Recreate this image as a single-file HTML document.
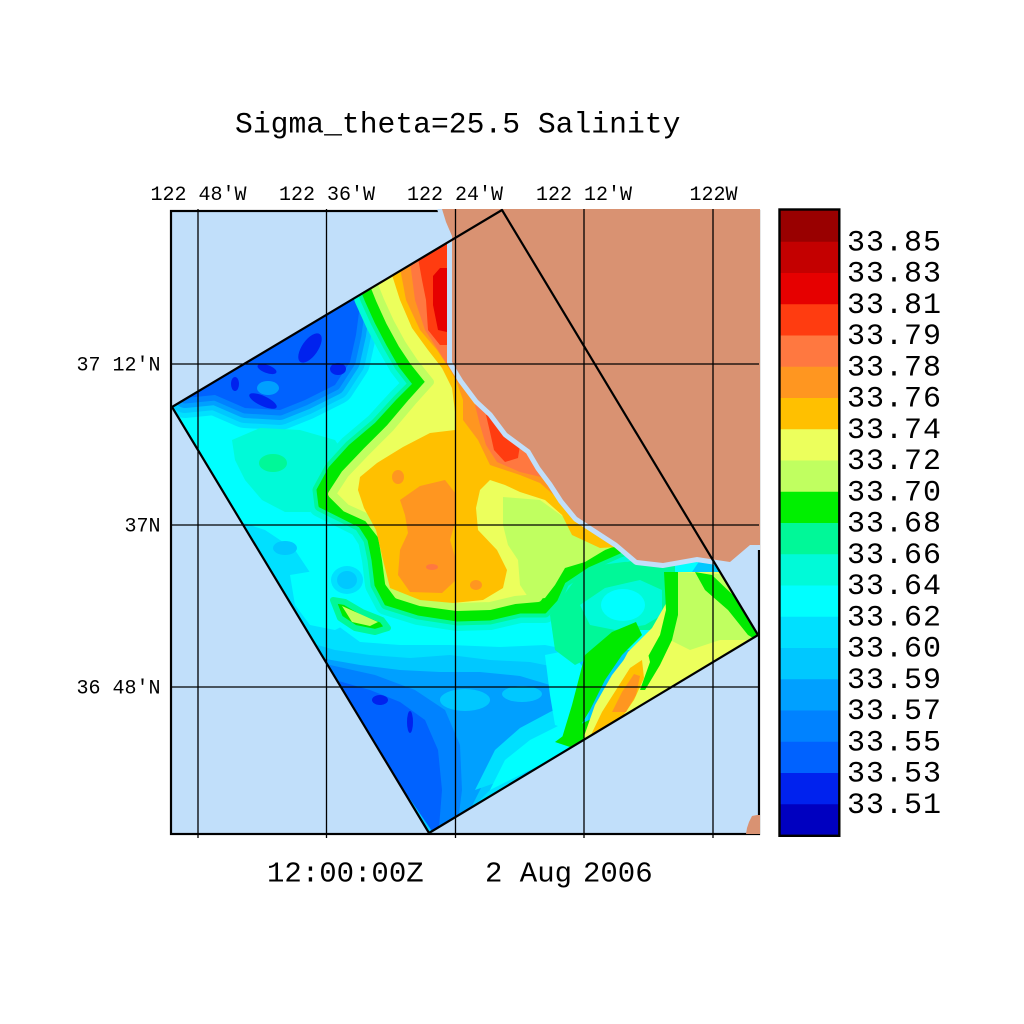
<!DOCTYPE html>
<html><head><meta charset="utf-8"><style>
html,body{margin:0;padding:0;background:#fff;}
svg{display:block;}
text{font-family:"Liberation Mono","DejaVu Sans Mono",monospace;fill:#000;}
</style></head><body>
<svg width="1024" height="1024" viewBox="0 0 1024 1024" xmlns="http://www.w3.org/2000/svg">
<defs>
<clipPath id="dc"><polygon points="172,407 502,210 758,635 429,833"/></clipPath>
<clipPath id="pc"><rect x="171" y="209" width="589" height="626"/></clipPath>
</defs>
<rect width="1024" height="1024" fill="#fff"/>
<text x="235" y="132.5" font-size="29.7">Sigma_theta=25.5 Salinity</text>
<rect x="171" y="210" width="588" height="624" fill="#c1dffa"/>
<rect x="171" y="211" width="588" height="623" fill="none" stroke="#000" stroke-width="2.2"/>

<g clip-path="url(#dc)">
<rect x="160" y="200" width="610" height="650" fill="#00c8ff"/>
<polygon fill="#00ffff" points="165,405 215,405 260,415 300,418 335,400 355,370 368,330 375,295 420,270 470,300 520,420 600,520 700,560 640,650 600,650 560,655 520,650 470,650 420,648 380,645 345,640 320,625 300,605 275,585 250,555 230,530 200,470"/>
<!-- top-left blue zone -->
<g stroke-linejoin="round">
<polygon fill="none" stroke="#00e0ff" stroke-width="40" points="185,398 215,395 245,408 280,410 305,400 335,385 350,362 356,335 360,305 372,280 250,300 180,370"/>
<polygon fill="none" stroke="#00c8ff" stroke-width="30" points="185,398 215,395 245,408 280,410 305,400 335,385 350,362 356,335 360,305 372,280 250,300 180,370"/>
<polygon fill="none" stroke="#00a0ff" stroke-width="20" points="185,398 215,395 245,408 280,410 305,400 335,385 350,362 356,335 360,305 372,280 250,300 180,370"/>
<polygon fill="none" stroke="#0082ff" stroke-width="11" points="185,398 215,395 245,408 280,410 305,400 335,385 350,362 356,335 360,305 372,280 250,300 180,370"/>
<polygon fill="#0062ff" points="185,398 215,395 245,408 280,410 305,400 335,385 350,362 356,335 360,305 372,280 250,300 180,370"/>
</g>
<ellipse cx="310" cy="348" rx="17" ry="8" transform="rotate(-55 310 348)" fill="#0022ee"/>
<ellipse cx="267" cy="369" rx="10" ry="4" transform="rotate(20 267 369)" fill="#0022ee"/>
<ellipse cx="263" cy="401" rx="15" ry="5" transform="rotate(25 263 401)" fill="#0022ee"/>
<ellipse cx="235" cy="384" rx="4" ry="7" fill="#0022ee"/>
<ellipse cx="338" cy="369" rx="8" ry="6" fill="#0022ee"/>
<ellipse cx="268" cy="388" rx="11" ry="7" fill="#00a0ff"/>
<!-- left-middle teal -->
<polygon fill="#00fad8" points="232,440 260,428 300,430 335,440 345,455 335,475 325,500 310,512 285,512 262,500 245,480 235,460"/>
<ellipse cx="273" cy="463" rx="14" ry="9" fill="#00f898"/>
<!-- bottom blues -->
<polygon fill="#00e0ff" points="235,520 265,530 295,550 315,580 330,620 360,642 400,645 450,645 500,647 545,645 570,650 590,680 580,730 540,760 440,845 200,600"/>
<ellipse cx="285" cy="548" rx="12" ry="7" fill="#00c8ff"/>
<polygon fill="#00ffff" points="290,575 320,570 345,565 365,575 368,600 355,620 335,630 310,625 295,605"/>
<ellipse cx="347" cy="580" rx="16" ry="14" fill="#00e0ff"/>
<ellipse cx="347" cy="580" rx="10" ry="9" fill="#00c8ff"/>
<polygon fill="#00c8ff" points="300,640 335,650 370,655 410,658 450,655 490,660 530,662 560,668 575,690 565,720 540,740 480,800 440,845 270,650"/>
<polygon fill="#00a0ff" points="320,658 360,665 400,670 440,672 480,672 520,676 550,685 565,700 555,725 520,745 490,770 470,810 460,845 300,660"/>
<ellipse cx="465" cy="700" rx="25" ry="11" fill="#00c8ff"/>
<ellipse cx="522" cy="694" rx="20" ry="8" fill="#00c8ff"/>
<ellipse cx="452" cy="762" rx="8" ry="24" fill="#00c8ff"/>
<polygon fill="#0082ff" points="330,665 375,675 415,690 445,710 460,745 462,790 455,845 320,670"/>
<polygon fill="#0062ff" points="335,680 370,690 400,702 425,720 438,750 442,790 438,840 330,682"/>
<ellipse cx="410" cy="722" rx="3" ry="11" fill="#0022ee"/>
<ellipse cx="380" cy="700" rx="8" ry="5" fill="#0022ee"/>
<polygon fill="#00e0ff" points="475,790 495,750 520,728 550,712 575,700 590,705 585,740 560,760"/>
<polygon fill="#00ffff" points="490,790 505,760 530,740 560,725 585,718 585,742 560,755"/>
<polygon fill="#00ffff" points="545,655 570,650 585,670 580,700 570,730 555,725 550,695"/>
<polygon fill="#00f898" points="500,800 530,775 560,760 590,748 600,748 560,775 520,810"/>
<polygon fill="#00ea00" points="555,742 575,727 595,717 592,735 570,747"/>
<!-- warm central region -->
<g stroke-linejoin="round">
<polygon fill="none" stroke="#00fad8" stroke-width="22" points="358,280 366,300 376,322 388,345 400,366 414,384 398,400 376,424 350,446 330,468 318,490 320,506 340,516 360,526 369,540 373,560 376,585 386,604 418,614 457,620 490,619 520,612 545,612 556,600 564,582 588,566 620,552 640,545 700,520 700,200 460,200"/>
<polygon fill="none" stroke="#00f898" stroke-width="11" points="358,280 366,300 376,322 388,345 400,366 414,384 398,400 376,424 350,446 330,468 318,490 320,506 340,516 360,526 369,540 373,560 376,585 386,604 418,614 457,620 490,619 520,612 545,612 556,600 564,582 588,566 620,552 640,545 700,520 700,200 460,200"/>
<polygon fill="#00ea00" stroke="#00ea00" stroke-width="3" points="358,280 366,300 376,322 388,345 400,366 414,384 398,400 376,424 350,446 330,468 318,490 320,506 340,516 360,526 369,540 373,560 376,585 386,604 418,614 457,620 490,619 520,612 545,612 556,600 564,582 588,566 620,552 640,545 700,520 700,200 460,200"/>
<polygon fill="#ecff5c" stroke="#c0ff60" stroke-width="8" points="372,280 380,300 390,322 402,344 414,362 430,382 412,402 390,428 366,452 345,474 332,494 346,508 368,518 382,536 386,560 389,583 398,595 420,602 457,607 490,606 515,600 538,598 546,586 552,570 578,556 620,540 640,535 700,520 700,200 460,200"/>
<!-- tongue -->
<polygon fill="#00ea00" stroke="#00f898" stroke-width="6" points="333,600 345,602 362,612 382,620 388,628 375,632 355,628 340,618"/>
<polygon fill="#c0ff60" points="342,606 360,614 378,622 370,626 352,622"/>
</g>
<polygon fill="#c0ff60" points="503,497 540,500 565,518 590,540 605,550 585,562 565,568 555,585 545,598 530,600 520,585 518,560 508,545 503,525"/>
<polygon fill="#ffc000" points="392,275 400,300 412,328 428,350 442,368 452,388 455,412 455,430 430,433 403,447 377,463 360,477 358,490 364,508 376,530 383,560 390,588 420,600 453,603 483,600 503,588 507,570 497,550 478,530 476,508 480,490 490,480 505,485 520,492 545,500 562,515 572,535 600,548 650,545 650,200 460,200"/>
<polygon fill="#ff9620" points="400,500 420,486 445,480 456,494 456,520 450,540 456,560 456,580 442,593 410,592 398,575 400,550 408,533 405,515"/>
<ellipse cx="398" cy="477" rx="6" ry="7" fill="#ff9620"/>
<ellipse cx="476" cy="585" rx="6" ry="5" fill="#ff9620"/>
<ellipse cx="432" cy="567" rx="6" ry="3" fill="#ff7840"/>
<!-- coastal bands -->
<polygon fill="#ff9620" points="400,268 406,300 420,330 437,350 445,362 456,380 463,400 463,420 478,440 490,465 520,475 540,483 565,505 577,517 600,533 620,545 650,545 650,200 460,200"/>
<polygon fill="#ff7840" points="410,262 415,300 425,330 438,350 448,366 470,366 470,200 440,200"/>
<polygon fill="#ff7840" points="475,405 480,425 486,445 497,462 520,472 545,478 560,470 520,420 490,400"/>
<polygon fill="#ff3c10" points="418,258 422,280 426,300 428,330 440,345 470,345 470,200 440,200"/>
<polygon fill="#ff3c10" points="486,415 490,432 494,450 505,462 518,458 520,445 510,430 498,415"/>
<polygon fill="#e60000" points="433,276 440,268 447,268 447,332 438,330 433,305"/>
<!-- right-bottom region -->
<polygon fill="#00f898" points="550,615 560,600 575,580 600,565 640,560 675,565 675,600 665,630 640,630 615,640 595,655 575,665 555,650"/>
<polygon fill="#00fad8" points="580,605 605,588 640,580 662,590 662,615 645,625 615,630 590,625"/>
<ellipse cx="623" cy="605" rx="22" ry="16" fill="#00ffff"/>
<polygon fill="#ecff5c" points="628,652 652,628 668,600 675,572 720,572 760,620 760,650 650,720 600,750 588,728 605,695"/>
<polygon fill="#c0ff60" points="676,572 720,574 757,615 755,640 720,640 690,650 670,640 672,610"/>
<polygon fill="#00ea00" points="695,572 712,575 735,597 760,628 760,642 748,635 728,610 705,590"/>
<polygon fill="#00ea00" points="664,572 678,572 678,615 672,640 660,665 645,690 632,690 645,662 660,635 666,610"/>
<polygon fill="#00ea00" points="585,655 612,632 636,622 642,635 622,655 605,680 590,710 575,735 562,738 572,705"/>
<polygon fill="#ecff5c" points="582,742 595,705 612,675 630,652 646,645 650,662 640,690 626,712 612,735"/>
<polygon fill="#ffc000" points="590,737 602,712 616,690 630,668 642,660 644,678 634,700 620,720"/>
<polygon fill="#ff9620" points="612,712 622,692 634,674 640,676 636,695 626,712"/>
</g>

<!-- coast gap and land -->
<g clip-path="url(#pc)">
<polyline fill="none" stroke="#c1dffa" stroke-width="10" stroke-linejoin="round" points="442,208 446,222 452,236 452,362 463,380 478,400 492,413 507,433 530,450 540,467 552,483 563,500 577,517 597,530 617,543 637,560 663,563 697,557 730,562 750,545 760,545"/>
</g>
<polygon fill="#d99272" points="442,209 446,222 452,236 452,362 463,380 478,400 492,413 507,433 530,450 540,467 552,483 563,500 577,517 597,530 617,543 637,560 663,563 697,557 730,562 750,545 760,545 760,209"/>
<polygon fill="#d99272" points="749,822 752,816 757,815 760,815 760,834 746,834 747,828"/>

<!-- grid -->
<g stroke="#000" stroke-width="1.3">
<line x1="198" y1="209" x2="198" y2="838"/>
<line x1="326.5" y1="209" x2="326.5" y2="838"/>
<line x1="455.5" y1="209" x2="455.5" y2="838"/>
<line x1="584" y1="209" x2="584" y2="838"/>
<line x1="713" y1="209" x2="713" y2="838"/>
<line x1="171" y1="364" x2="759" y2="364"/>
<line x1="171" y1="525" x2="759" y2="525"/>
<line x1="171" y1="687" x2="759" y2="687"/>
</g>
<polygon points="172,407 502,210 758,635 429,833" fill="none" stroke="#000" stroke-width="2.2" stroke-linejoin="round"/>

<!-- axis labels -->
<g font-size="20" text-anchor="middle">
<text x="198.5" y="200">122 48'W</text>
<text x="327" y="200">122 36'W</text>
<text x="455" y="200">122 24'W</text>
<text x="584" y="200">122 12'W</text>
<text x="713.5" y="200">122W</text>
</g>
<g font-size="20" text-anchor="end">
<text x="160.5" y="370.5">37 12'N</text>
<text x="160.5" y="531.5">37N</text>
<text x="160.5" y="693.5">36 48'N</text>
</g>

<text x="267" y="881.5" font-size="29">12:00:00Z</text>
<text x="485" y="881.5" font-size="29">2 Aug</text>
<text x="583" y="881.5" font-size="29">2006</text>

<!-- colorbar -->
<g>
<rect x="779" y="210.5" width="60" height="31.5" fill="#990000"/>
<rect x="779" y="241.75" width="60" height="31.5" fill="#c40000"/>
<rect x="779" y="273" width="60" height="31.5" fill="#e60000"/>
<rect x="779" y="304.25" width="60" height="31.5" fill="#ff3c10"/>
<rect x="779" y="335.5" width="60" height="31.5" fill="#ff7840"/>
<rect x="779" y="366.75" width="60" height="31.5" fill="#ff9620"/>
<rect x="779" y="398" width="60" height="31.5" fill="#ffc000"/>
<rect x="779" y="429.25" width="60" height="31.5" fill="#ecff5c"/>
<rect x="779" y="460.5" width="60" height="31.5" fill="#c0ff60"/>
<rect x="779" y="491.75" width="60" height="31.5" fill="#00f000"/>
<rect x="779" y="523" width="60" height="31.5" fill="#00f898"/>
<rect x="779" y="554.25" width="60" height="31.5" fill="#00fad8"/>
<rect x="779" y="585.5" width="60" height="31.5" fill="#00ffff"/>
<rect x="779" y="616.75" width="60" height="31.5" fill="#00e0ff"/>
<rect x="779" y="648" width="60" height="31.5" fill="#00c8ff"/>
<rect x="779" y="679.25" width="60" height="31.5" fill="#00a0ff"/>
<rect x="779" y="710.5" width="60" height="31.5" fill="#0082ff"/>
<rect x="779" y="741.75" width="60" height="31.5" fill="#0062ff"/>
<rect x="779" y="773" width="60" height="31.5" fill="#0022ee"/>
<rect x="779" y="804.25" width="60" height="31.25" fill="#0000c0"/>
<rect x="779.5" y="209.5" width="59.8" height="626.3" fill="none" stroke="#000" stroke-width="2.4"/>
</g>
<g font-size="30" letter-spacing="1">
<text x="847" y="250.25">33.85</text>
<text x="847" y="281.5">33.83</text>
<text x="847" y="312.75">33.81</text>
<text x="847" y="344">33.79</text>
<text x="847" y="375.25">33.78</text>
<text x="847" y="406.5">33.76</text>
<text x="847" y="437.75">33.74</text>
<text x="847" y="469">33.72</text>
<text x="847" y="500.25">33.70</text>
<text x="847" y="531.5">33.68</text>
<text x="847" y="562.75">33.66</text>
<text x="847" y="594">33.64</text>
<text x="847" y="625.25">33.62</text>
<text x="847" y="656.5">33.60</text>
<text x="847" y="687.75">33.59</text>
<text x="847" y="719">33.57</text>
<text x="847" y="750.25">33.55</text>
<text x="847" y="781.5">33.53</text>
<text x="847" y="813">33.51</text>
</g>
</svg>
</body></html>
